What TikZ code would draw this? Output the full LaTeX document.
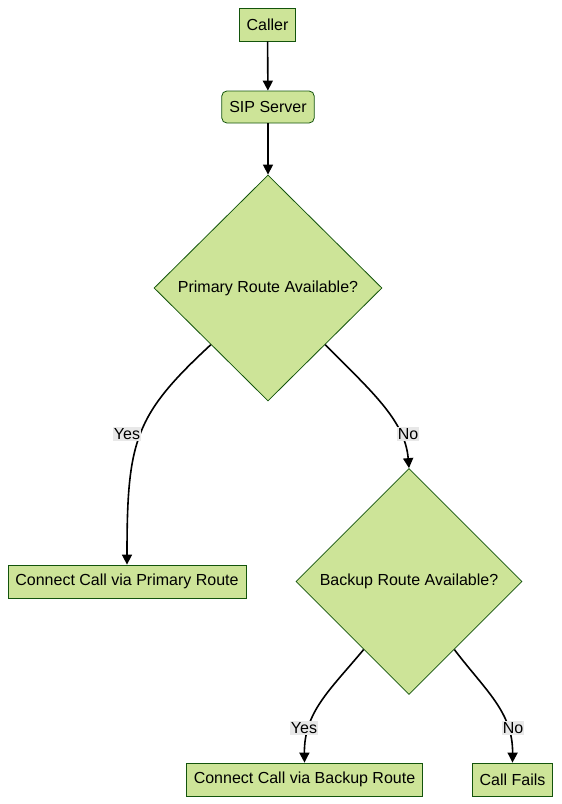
\documentclass[tikz,border=0pt]{standalone}
\usepackage{fontspec}
\setmainfont{Liberation Sans}
\usetikzlibrary{shapes.geometric,arrows.meta,calc}
\definecolor{boxfill}{HTML}{CDE498}
\definecolor{boxline}{HTML}{13540C}
\definecolor{lblfill}{HTML}{E8E8E8}

\begin{document}
\begin{tikzpicture}[x=1pt,y=-1pt,font=\fontsize{16}{19}\selectfont,
  box/.style={draw=boxline,fill=boxfill,line width=0.8pt,inner xsep=7.5pt,minimum height=33pt},
  choice/.style={diamond,aspect=1,draw=boxline,fill=boxfill,line width=0.8pt,inner sep=0pt,minimum width=228pt,minimum height=226pt},
  flow/.style={line width=1.6pt,-{Triangle[length=10pt,width=10pt]}},
  lbl/.style={fill=lblfill,inner sep=1pt}]
\useasboundingbox (0,0) rectangle (562,804);
\node [box] (caller) at (267.5,24.5) {Caller};
\node [box,rounded corners=5pt,minimum height=32pt] (sip) at (268,107) {SIP Server};
\node [choice] (prim) at (268,288) {Primary Route Available?};
\node [box] (conprim) at (127,581.5) {Connect Call via Primary Route};
\node [choice,minimum width=226pt] (back) at (409,581.5) {Backup Route Available?};
\node [box] (conback) at (304.5,779.5) {Connect Call via Backup Route};
\node [box] (fails) at (512.5,779.5) {Call Fails};
\draw [flow] (caller) -- (sip);
\draw [flow] (sip) -- (prim);
\draw [flow] (prim.south west) .. controls (135,415) and (127,440) .. (conprim.north);
\draw [flow] (prim.south east) .. controls (370,390) and (405,420) .. (back.north);
\draw [flow] ($(back.south west)!0.2!(back.south)$) .. controls (330,690) and (304,712) .. (conback.north);
\draw [flow] ($(back.south east)!0.2!(back.south)$) .. controls (485,690) and (513,712) .. (fails.north);
\node [lbl] (yes1) at (127,434) {Yes};
\node [lbl] (no1) at (408,434) {No};
\node [lbl] (yes2) at (304,728) {Yes};
\node [lbl] (no2) at (513,728) {No};
\end{tikzpicture}
\end{document}
